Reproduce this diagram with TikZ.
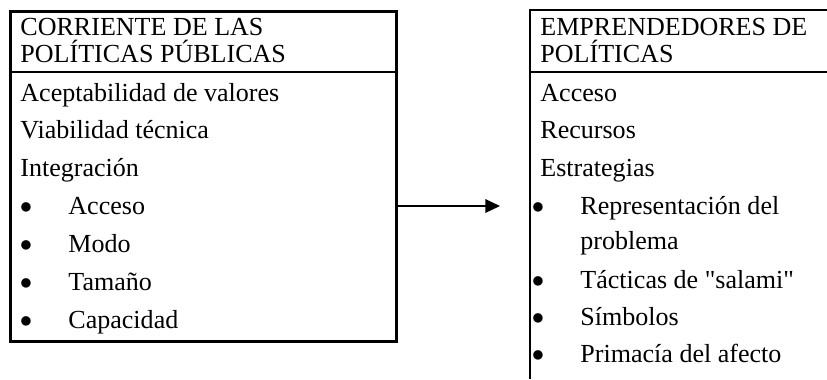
\documentclass[tikz,border=0pt]{standalone}
\usepackage{fontspec}
\setmainfont{Liberation Serif}[Ligatures=TeXOff]
\usetikzlibrary{arrows.meta,positioning}

\begin{document}
\begin{tikzpicture}[x=0.48pt,y=-0.48pt,font=\fontsize{12.5}{14}\selectfont,
    box/.style={draw,line width=1.2pt,inner sep=0pt},
    txt/.style={anchor=base west,inner sep=0pt},
    bul/.style={txt,font=\fontsize{19}{19}\selectfont,yshift=-3.2pt}]
      \useasboundingbox (0,0) rectangle (827,379);

      % corriente de las politicas publicas
      \node[box,anchor=north west,minimum width=185.3pt,minimum height=158.4pt] (cp) at (9,10) {};
      \draw[line width=1.2pt] (9,72) -- (395,72);
      \node[txt] (cp1) at (20,35) {CORRIENTE DE LAS};
      \node[txt] (cp2) at (20,62) {POLÍTICAS PÚBLICAS};
      \node[txt] (a1) at (20,101) {Aceptabilidad de valores};
      \node[txt] (a2) at (20,138) {Viabilidad técnica};
      \node[txt] (a3) at (20,176) {Integración};
      \node[bul] (b1) at (19,214) {•};
      \node[txt] (i1) at (68,214) {Acceso};
      \node[bul] (b2) at (19,252) {•};
      \node[txt] (i2) at (68,252) {Modo};
      \node[bul] (b3) at (19,290) {•};
      \node[txt] (i3) at (68,290) {Tamaño};
      \node[bul] (b4) at (19,328) {•};
      \node[txt] (i4) at (68,328) {Capacidad};

      % emprendedores de politicas
      \draw[line width=1.2pt] (827,10) -- (530,10) -- (530,379);
      \draw[line width=1.2pt] (530,72) -- (827,72);
      \node[txt] (ep1) at (540,35) {EMPRENDEDORES DE};
      \node[txt] (ep2) at (540,62) {POLÍTICAS};
      \node[txt] (e1) at (540,101) {Acceso};
      \node[txt] (e2) at (540,138) {Recursos};
      \node[txt] (e3) at (540,176) {Estrategias};
      \node[bul] (d1) at (531,214) {•};
      \node[txt] (s1) at (580,214) {Representación del};
      \node[txt] (s1b) at (580,249) {problema};
      \node[bul] (d2) at (531,288) {•};
      \node[txt] (s2) at (580,288) {Tácticas de "salami"};
      \node[bul] (d3) at (531,325) {•};
      \node[txt] (s3) at (580,325) {Símbolos};
      \node[bul] (d4) at (531,362) {•};
      \node[txt] (s4) at (580,362) {Primacía del afecto};

      \coordinate (tip) at (500,206);
      \draw[line width=0.6pt,-{Triangle[length=7pt,width=6.5pt]}] (cp.east |- tip) -- (tip);
\end{tikzpicture}
\end{document}
